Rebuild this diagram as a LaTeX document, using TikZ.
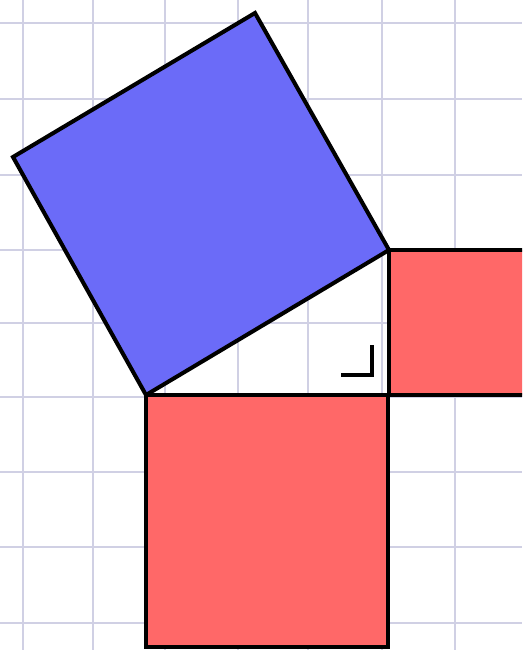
\documentclass[tikz,border=0pt]{standalone}
\usepackage{tikz}

\definecolor{gridblue}{RGB}{208,208,228}
\definecolor{legred}{RGB}{255,104,104}
\definecolor{hypblue}{RGB}{107,107,248}

\begin{document}
\begin{tikzpicture}[x=0.02cm,y=-0.02cm,
    gridline/.style={draw=gridblue,line width=1.1pt},
    edge/.style={draw=black,line width=2.3pt,line join=miter}]
      \useasboundingbox (0,0) rectangle (522,650);
      \clip (0,0) rectangle (522,650);
      \fill[white] (0,0) rectangle (522,650);
      % background grid
      \foreach \x in {23,93,165,238,308,382,455}
        \draw[gridline] (\x,0) -- (\x,650);
      \foreach \y in {23,99,175,250,323,397,472,547,623}
        \draw[gridline] (0,\y) -- (522,\y);
      % triangle corners
      \coordinate (A) at (146,395);
      \coordinate (B) at (389,250);
      \coordinate (C) at (389,395);
      % squares on the sides
      \draw[edge,fill=hypblue] (A) -- (B) -- (255,13) -- (13,157) -- cycle;
      \draw[edge,fill=legred] (A) rectangle (388,647);
      \draw[edge,fill=legred] (B) rectangle (560,395);
      % right angle mark
      \draw[black,line width=2.3pt] (341,375) -- (372,375) -- (372,345);
\end{tikzpicture}
\end{document}
